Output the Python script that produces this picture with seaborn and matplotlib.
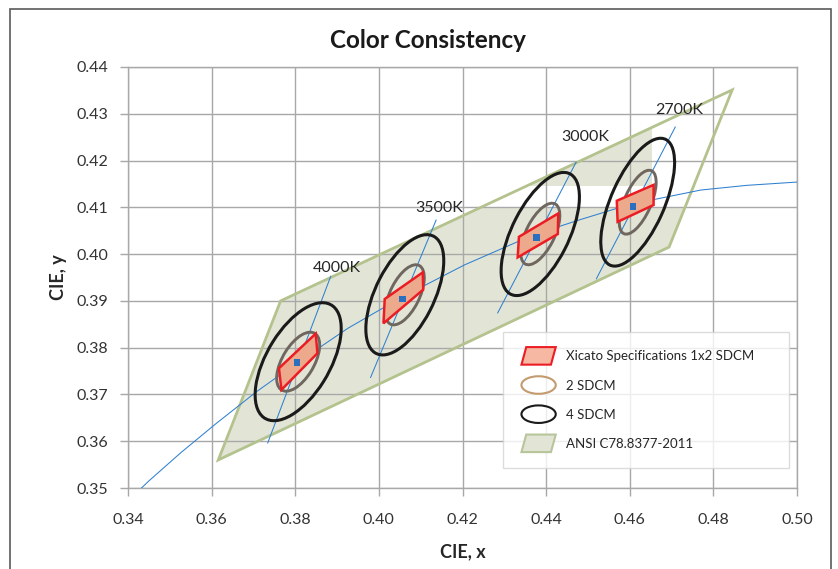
import matplotlib
matplotlib.use('Agg')
import matplotlib.pyplot as plt
import matplotlib.patches as mpatches
from matplotlib.legend_handler import HandlerPatch
from matplotlib.ticker import FormatStrFormatter
import numpy as np
import pandas as pd
import seaborn as sns

# Planckian locus, CIE 1931 (x, y)
locus_x = [0.3424, 0.3451, 0.3527, 0.3611, 0.3709, 0.3805, 0.3925, 0.4053,
           0.4205, 0.4369, 0.4479, 0.4599, 0.4770, 0.4880, 0.5000]
locus_y = [0.3493, 0.3516, 0.3576, 0.3638, 0.3707, 0.3768, 0.3841, 0.3907,
           0.3977, 0.4041, 0.4073, 0.4106, 0.4137, 0.4147, 0.4154]

cct_labels = ['4000K', '3500K', '3000K', '2700K']
centre_x = [0.3804, 0.4057, 0.4377, 0.4608]
centre_y = [0.3769, 0.3904, 0.4036, 0.4102]

# MacAdam ellipses, 4 SDCM (2 SDCM is half of it)
ell_x = [0.3807, 0.4062, 0.4386, 0.4619]
ell_y = [0.3770, 0.3913, 0.4043, 0.4111]
ell_a = [0.0145, 0.0143, 0.0147, 0.0150]
ell_b = [0.0074, 0.0069, 0.0067, 0.0063]
ell_angle = [55, 60, 60, 63]

# Xicato 1x2 SDCM quadrangles
xic_x = [[0.3761, 0.3849, 0.3853, 0.3767],
         [0.4014, 0.4105, 0.4106, 0.4011],
         [0.4335, 0.4429, 0.4428, 0.4332],
         [0.4569, 0.4657, 0.4657, 0.4571]]
xic_y = [[0.3756, 0.3830, 0.3788, 0.3710],
         [0.3904, 0.3961, 0.3924, 0.3852],
         [0.4037, 0.4087, 0.4043, 0.3993],
         [0.4114, 0.4148, 0.4105, 0.4069]]

# isotherm lines
iso_x = [[0.3734, 0.3885], [0.3980, 0.4137], [0.4284, 0.4472], [0.4520, 0.4709]]
iso_y = [[0.3596, 0.3953], [0.3736, 0.4073], [0.3874, 0.4197], [0.3947, 0.4272]]

label_x = [0.3899, 0.4145, 0.4494, 0.4718]
label_y = [0.3971, 0.4099, 0.4250, 0.4308]

# ANSI C78.377-2011 region
ansi_x = [0.3616, 0.3765, 0.4845, 0.4694]
ansi_y = [0.3560, 0.3900, 0.4351, 0.4015]

sns.set_theme(style='white')
plt.rcParams['font.family'] = ['Lato', 'DejaVu Sans']

fig = plt.figure(figsize=(8.38, 5.69), dpi=100)
ax = fig.add_axes([128 / 838, 1 - 488 / 569, 669 / 838, 421 / 569])

# outer chart border
fig.patches.append(mpatches.Rectangle((10 / 838, -0.05), 821 / 838, 1.05 - 9 / 569,
                                      transform=fig.transFigure, fill=False,
                                      edgecolor='#5a5a5a', lw=1.2))

ansi_pts = np.column_stack([ansi_x, ansi_y])
green_fill = '#e2e5d6'
green_edge = '#b4c28e'
for clip in [mpatches.Rectangle((0.30, 0.30), 0.30, 0.40994 - 0.30),
             mpatches.Rectangle((0.30, 0.41457), 0.4654 - 0.30, 0.10)]:
    p = mpatches.Polygon(ansi_pts, closed=True, facecolor=green_fill,
                         edgecolor='none', zorder=0.2)
    ax.add_patch(p)
    clip.set_transform(ax.transData)
    p.set_clip_path(clip)
ax.add_patch(mpatches.Polygon(ansi_pts, closed=True, fill=False,
                              edgecolor=green_edge, lw=2, zorder=2))

locus = pd.DataFrame({'x': locus_x, 'y': locus_y})
sns.lineplot(data=locus, x='x', y='y', sort=False, color='#2f80d0', lw=0.75,
             ax=ax, zorder=3)

for i in range(4):
    ax.plot(iso_x[i], iso_y[i], color='#2f80d0', lw=0.75, zorder=3)
    ax.add_patch(mpatches.Ellipse((ell_x[i], ell_y[i]), 2 * ell_a[i], 2 * ell_b[i],
                                  angle=ell_angle[i], fill=False,
                                  edgecolor='#1a1a1a', lw=2.2, zorder=4))
    ax.add_patch(mpatches.Ellipse((ell_x[i], ell_y[i]), ell_a[i], ell_b[i],
                                  angle=ell_angle[i], fill=False,
                                  edgecolor='#6e665f', lw=2.1, zorder=4))
    ax.add_patch(mpatches.Polygon(np.column_stack([xic_x[i], xic_y[i]]), closed=True,
                                  facecolor='#eca98b', edgecolor='#ec1c24',
                                  lw=1.8, zorder=5))
    ax.text(label_x[i], label_y[i], cct_labels[i], ha='center', va='center',
            fontsize=11.5, color='#262626', zorder=6)

centres = pd.DataFrame({'x': centre_x, 'y': centre_y})
sns.scatterplot(data=centres, x='x', y='y', marker='s', s=24, color='#2a6fc0',
                edgecolor='none', ax=ax, zorder=6)

ax.set_xlim(0.34, 0.50)
ax.set_ylim(0.35, 0.44)
ax.set_xticks(np.arange(0.34, 0.5001, 0.02))
ax.set_yticks(np.arange(0.35, 0.4401, 0.01))
ax.xaxis.set_major_formatter(FormatStrFormatter('%.2f'))
ax.yaxis.set_major_formatter(FormatStrFormatter('%.2f'))
ax.grid(True, color='#a8a8a8', lw=1)
ax.set_axisbelow(True)
for s in ax.spines.values():
    s.set_color('#a8a8a8')
    s.set_linewidth(1)
ax.tick_params(axis='both', length=6, width=1, color='#a8a8a8', labelsize=11.5,
               labelcolor='#333333', bottom=True, left=True)
ax.tick_params(axis='x', pad=12)
ax.tick_params(axis='y', pad=8)
ax.set_xlabel('CIE, x', fontsize=13, fontweight='bold', color='#262626', labelpad=12)
ax.set_ylabel('CIE, y', fontsize=13, fontweight='bold', color='#262626', labelpad=7)

fig.text(428 / 838, 1 - 40 / 569, 'Color Consistency', ha='center', va='center',
         fontsize=17.5, fontweight='bold', color='#1a1a1a')


def para_patch(legend, orig_handle, xdescent, ydescent, width, height, fontsize):
    h = height * 1.9
    y0 = -ydescent + height / 2 - h / 2
    x0 = -xdescent
    sk = width * 0.14
    return mpatches.Polygon([[x0 + sk, y0 + h], [x0 + width, y0 + h],
                             [x0 + width - sk, y0], [x0, y0]], closed=True)


def ell_patch(legend, orig_handle, xdescent, ydescent, width, height, fontsize):
    return mpatches.Ellipse((-xdescent + width / 2, -ydescent + height / 2),
                            width, height * 1.9)


h_xic = mpatches.Patch(facecolor='#f6b8a2', edgecolor='#ec1c24', lw=1.5)
h_two = mpatches.Patch(facecolor='none', edgecolor='#c49b6e', lw=1.5)
h_four = mpatches.Patch(facecolor='none', edgecolor='#1a1a1a', lw=1.5)
h_ansi = mpatches.Patch(facecolor='#e2e5d6', edgecolor='#b8c59a', lw=1.5)
leg = ax.legend([h_xic, h_two, h_four, h_ansi],
                ['Xicato Specifications 1x2 SDCM', '2 SDCM', '4 SDCM',
                 'ANSI C78.8377-2011'],
                handler_map={h_xic: HandlerPatch(patch_func=para_patch),
                             h_two: HandlerPatch(patch_func=ell_patch),
                             h_four: HandlerPatch(patch_func=ell_patch),
                             h_ansi: HandlerPatch(patch_func=para_patch)},
                loc='upper left', bbox_to_anchor=(0.5605, 0.045, 0.4275, 0.3255),
                mode='expand', fontsize=9.5, frameon=True, fancybox=False,
                borderpad=1.4, labelspacing=1.3, handlelength=2.6,
                handletextpad=0.8, borderaxespad=0)
leg.get_frame().set_edgecolor('#d4d4d4')
leg.get_frame().set_linewidth(1)
leg.set_zorder(10)
for t in leg.get_texts():
    t.set_color('#262626')

fig.savefig('out.png', dpi=100)
